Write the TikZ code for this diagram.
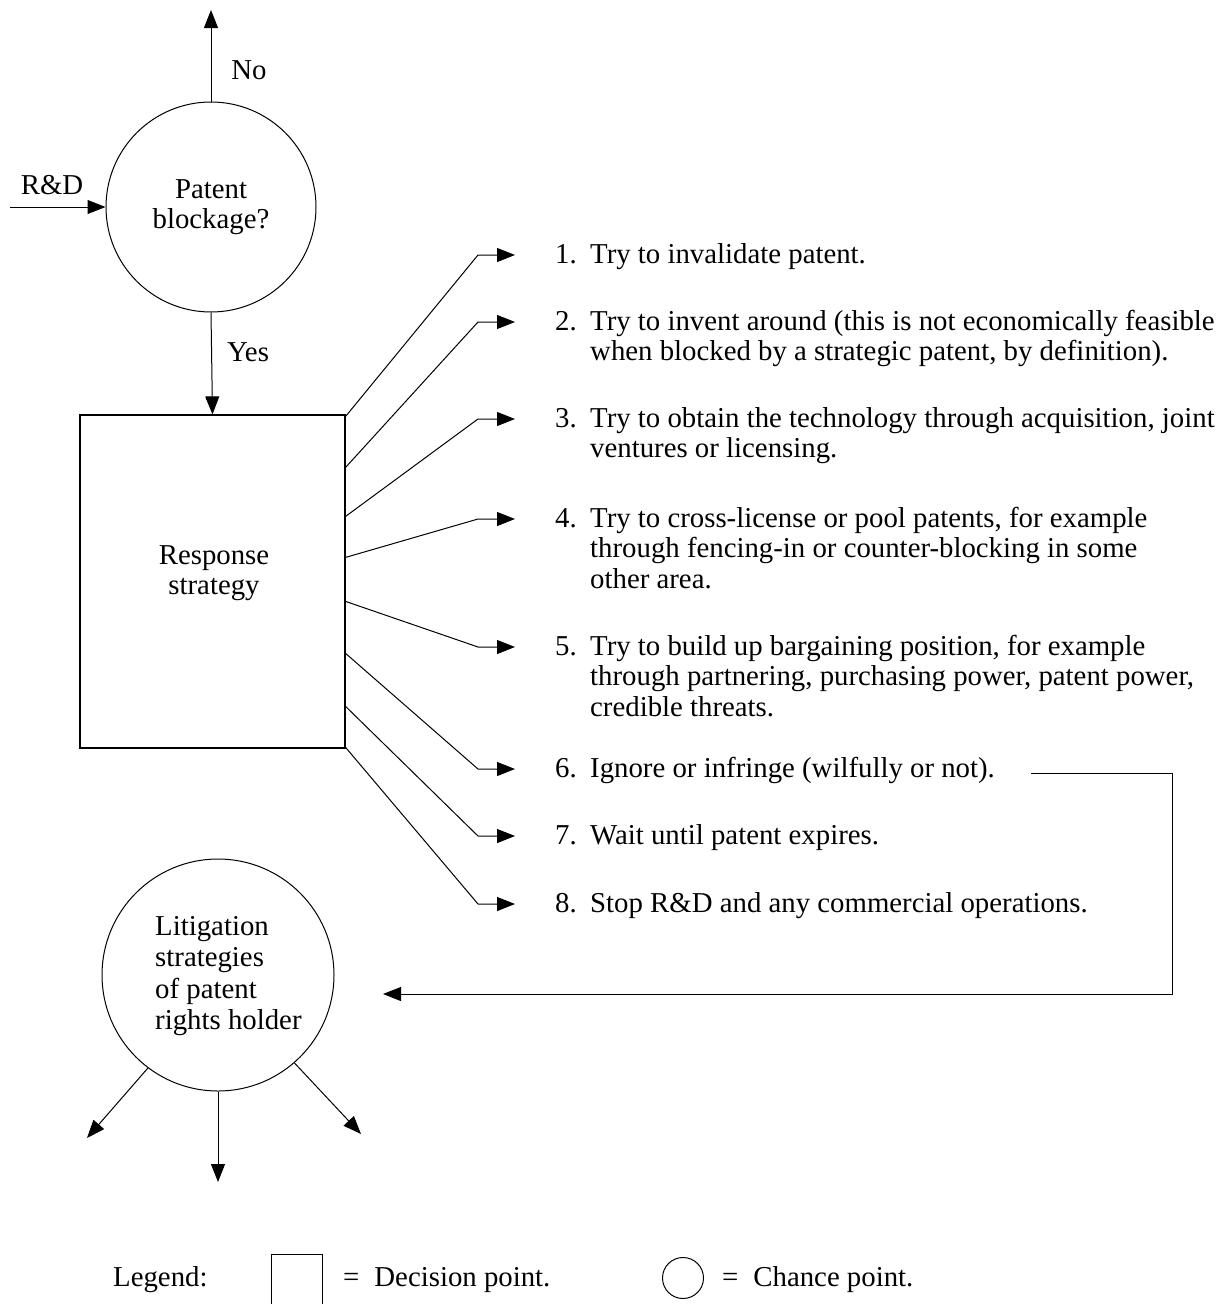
\documentclass[tikz,border=0pt]{standalone}
\usepackage{fontspec}
\setmainfont{Liberation Serif}
\usetikzlibrary{arrows.meta,calc}
\begin{document}
\begin{tikzpicture}[x=1pt,y=-1pt,
  every node/.style={font=\fontsize{28.8}{30.5}\selectfont},
  conn/.style={line width=1pt},
  arr/.style={conn,-{Triangle[length=18pt,width=14pt]}},
  chance/.style={draw,circle,line width=1pt,inner sep=0pt},
  decision/.style={draw,rectangle,line width=1.2pt,inner sep=0pt},
  lbl/.style={inner sep=0pt},
  itemnum/.style={anchor=base west,inner sep=0pt},
  itemtext/.style={anchor=north west,inner sep=0pt,align=left},
]
\useasboundingbox (0,0) rectangle (1231,1304);
\clip (0,0) rectangle (1231,1304);

% chance node: patent blockage
\node[chance,minimum size=210pt,align=center] (pb) at (211,207) {Patent\\blockage?};
\coordinate (notip) at (211,10);
\draw[arr] (pb.north) -- (notip);
\node[lbl] (no) at (249,70) {No};
\coordinate (rdstart) at (10,207);
\draw[arr] (rdstart) -- (pb.west);
\node[lbl] (rd) at (52,185) {R\&D};

% decision node: response strategy
\node[decision,minimum width=265pt,minimum height=333pt] (rs) at (212.5,581.5) {};
\node[lbl,align=center] (rst) at (214,573) {Response\\strategy};
\draw[arr] (pb.south) -- (rs.north);
\node[lbl] (yes) at (248,352) {Yes};

% the eight options: connector, arrow and number
\foreach \i/\sy/\ay in {1/417/255, 2/468/322, 3/517/419, 4/558/519,
                        5/602/647, 6/654/769, 7/707/836, 8/748/904} {
  \coordinate (s\i) at ($(rs.north east)+(0,\sy-415)$);
  \coordinate (e\i) at (478,\ay);
  \coordinate (a\i) at (515,\ay);
  \draw[arr] (s\i) -- (e\i) -- (a\i);
  \node[itemnum] (n\i) at (555,\ay+8) {\i.};
}
% option texts, hung from the baseline of their first line
\newcommand{\optiontext}[3]{%
  \node[anchor=base west,inner sep=0pt] (#1) at (590,#2)
    {\begin{tabular}[t]{@{}l@{}}#3\end{tabular}};}
\optiontext{t1}{263}{Try to invalidate patent.}
\optiontext{t2}{330}{Try to invent around (this is not economically feasible\\when blocked by a strategic patent, by definition).}
\optiontext{t3}{427}{Try to obtain the technology through acquisition, joint\\ventures or licensing.}
\optiontext{t4}{527}{Try to cross-license or pool patents, for example\\through fencing-in or counter-blocking in some\\other area.}
\optiontext{t5}{655}{Try to build up bargaining position, for example\\through partnering, purchasing power, patent power,\\credible threats.}
\optiontext{t6}{777}{Ignore or infringe (wilfully or not).}
\optiontext{t7}{844}{Wait until patent expires.}
\optiontext{t8}{912}{Stop R\&D and any commercial operations.}

% chance node: litigation strategies
\node[chance,minimum size=232pt] (lit) at (218,975) {};
\node[anchor=base west,inner sep=0pt,font=\fontsize{28.8}{31.5}\selectfont] (litt) at (155,935)
  {\begin{tabular}[t]{@{}l@{}}Litigation\\strategies\\of patent\\rights holder\end{tabular}};

% infringement leads to litigation
\coordinate (fbs) at (1031,773);
\coordinate (fbc) at (1172,994);
\coordinate (fbe) at (383,994);
\draw[arr] (fbs) -| (fbc) -- (fbe);

% litigation outcomes
\coordinate (l1) at (87,1138);
\coordinate (l2) at (218,1182);
\coordinate (l3) at (361,1134);
\draw[arr] (lit.233.8) -- (l1);
\draw[arr] (lit.south) -- (l2);
\draw[arr] (lit.311.9) -- (l3);

% legend
\node[itemnum] (leg) at (113,1286) {Legend:};
\node[draw,rectangle,line width=1pt,inner sep=0pt,minimum width=51pt,minimum height=52pt] (lsq) at (296.5,1280) {};
\node[itemnum] (legd) at (343,1286) {=\hspace{15pt}Decision point.};
\node[draw,circle,line width=1pt,inner sep=0pt,minimum size=41pt] (lci) at (683,1278) {};
\node[itemnum] (legc) at (722,1286) {=\hspace{15pt}Chance point.};
\end{tikzpicture}
\end{document}
